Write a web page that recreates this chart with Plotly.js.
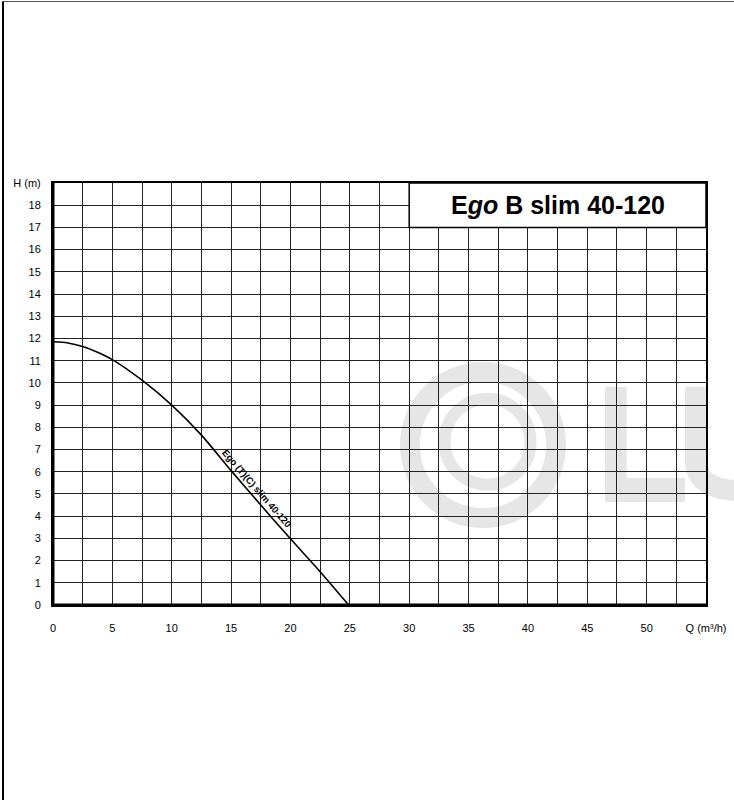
<!DOCTYPE html>
<html>
<head>
<meta charset="utf-8">
<script src="https://cdn.plot.ly/plotly-3.0.1.min.js"></script>
<style>
  html, body { margin: 0; padding: 0; background: #fff; }
  #wrap { position: relative; width: 734px; height: 800px; overflow: hidden; }
  #chart { width: 734px; height: 800px; }
  #bl { position: absolute; left: 2px; top: 1px; width: 2px; height: 799px; background: #000; }
  #bt { position: absolute; left: 2px; top: 1px; width: 732px; height: 1px; background: #555; }
</style>
</head>
<body>
<div id="wrap">
  <div id="chart"></div>
  <div id="bl"></div>
  <div id="bt"></div>
</div>
<script>
// ---- data ----
const flowQ = [0, 1.25, 2.5, 3.75, 5, 7.5, 10, 12.5, 15, 17.5, 20, 22.5, 24.9];      // m3/h
const headH = [11.85, 11.80, 11.64, 11.38, 11.05, 10.12, 9.0, 7.65, 6.05, 4.5, 2.98, 1.5, 0]; // m
const xTickVals = [0,2.5,5,7.5,10,12.5,15,17.5,20,22.5,25,27.5,30,32.5,35,37.5,40,42.5,45,47.5,50,52.5,55];
const xTickText = ["0","","5","","10","","15","","20","","25","","30","","35","","40","","45","","50","","Q (m³/h)"];
const yTickVals = [0,1,2,3,4,5,6,7,8,9,10,11,12,13,14,15,16,17,18,19];
const yTickText = ["0","1","2","3","4","5","6","7","8","9","10","11","12","13","14","15","16","17","18","H (m)"];
const chartTitle = "E<i>go</i> B slim 40-120";
const curveLabel = "Ego (T)(C) slim 40-120";

// ---- layout geometry ----
const W = 734, Hh = 800;
const mL = 53, mR = 28, mT = 183, mB = 195;
const pw = W - mL - mR, ph = Hh - mT - mB;
const px = v => (v - mL) / pw;          // pixel -> paper x
const py = v => (Hh - mB - v) / ph;     // pixel -> paper y

const FONT = "Arial, 'Liberation Sans', sans-serif";
const wm = "#e6e6e6";

const shapes = [
  // watermark (outer ring, inner ring, L, U)
  {type:"circle", xref:"paper", yref:"paper", layer:"below",
   x0:px(483-73), x1:px(483+73), y0:py(445+73), y1:py(445-73),
   line:{color:wm, width:20}},
  {type:"circle", xref:"paper", yref:"paper", layer:"below",
   x0:px(487.5-43), x1:px(487.5+43), y0:py(441.7+43), y1:py(441.7-43),
   line:{color:wm, width:12}},
  {type:"rect", xref:"paper", yref:"paper", layer:"below",
   x0:px(605), x1:px(626.7), y0:py(502), y1:py(387),
   fillcolor:wm, line:{width:0}},
  {type:"rect", xref:"paper", yref:"paper", layer:"below",
   x0:px(605), x1:px(685), y0:py(502), y1:py(478),
   fillcolor:wm, line:{width:0}},
  {type:"path", xref:"paper", yref:"paper", layer:"below",
   path:`M ${px(695.5)},${py(387)} L ${px(695.5)},${py(462)} Q ${px(697)},${py(491)} ${px(745)},${py(491)}`,
   fillcolor:"rgba(0,0,0,0)", line:{color:wm, width:21}},
  // title box
  {type:"rect", xref:"x", yref:"y", layer:"above",
   x0:30, x1:55, y0:17, y1:19, fillcolor:"#fff", line:{color:"#000", width:1.5}},
  // thicker left / bottom borders
  {type:"line", xref:"paper", yref:"paper", layer:"above",
   x0:0, x1:0, y0:0, y1:1, line:{color:"#000", width:3}},
  {type:"line", xref:"paper", yref:"paper", layer:"above",
   x0:0, x1:1, y0:0, y1:0, line:{color:"#000", width:3}}
];

const annotations = [
  {xref:"x", yref:"y", x:42.5, y:18, text:chartTitle, showarrow:false,
   font:{family:FONT, size:25, color:"#000", weight:"bold"}, xanchor:"center", yanchor:"middle"},
  {xref:"x", yref:"y", x:17.19, y:5.25, text:curveLabel, showarrow:false, textangle:49,
   font:{family:FONT, size:9.5, color:"#000", weight:"bold"}, xanchor:"center", yanchor:"middle"}
];

const trace = {
  x: flowQ, y: headH, type:"scatter", mode:"lines",
  line:{color:"#000", width:1.6, shape:"spline", smoothing:0.8},
  hoverinfo:"skip", showlegend:false
};

const layout = {
  width: W, height: Hh, autosize:false,
  margin:{l:mL, r:mR, t:mT, b:mB, pad:0},
  paper_bgcolor:"rgba(0,0,0,0)", plot_bgcolor:"rgba(0,0,0,0)",
  font:{family:FONT, size:11, color:"#000"},
  showlegend:false,
  xaxis:{range:[0,55], tickmode:"array", tickvals:xTickVals, ticktext:xTickText,
    showgrid:true, gridcolor:"#222", gridwidth:1, zeroline:false,
    showline:true, linecolor:"#000", linewidth:2, mirror:true,
    ticks:"", ticklabelstandoff:12, tickfont:{family:FONT, size:11, color:"#000"},
    fixedrange:true, automargin:false},
  yaxis:{range:[0,19], tickmode:"array", tickvals:yTickVals, ticktext:yTickText,
    showgrid:true, gridcolor:"#222", gridwidth:1, zeroline:false,
    showline:true, linecolor:"#000", linewidth:2, mirror:true,
    ticks:"", ticklabelstandoff:8, tickfont:{family:FONT, size:11, color:"#000"},
    fixedrange:true, automargin:false},
  shapes: shapes,
  annotations: annotations
};

Plotly.newPlot("chart", [trace], layout, {staticPlot:true, displayModeBar:false});
</script>
</body>
</html>
